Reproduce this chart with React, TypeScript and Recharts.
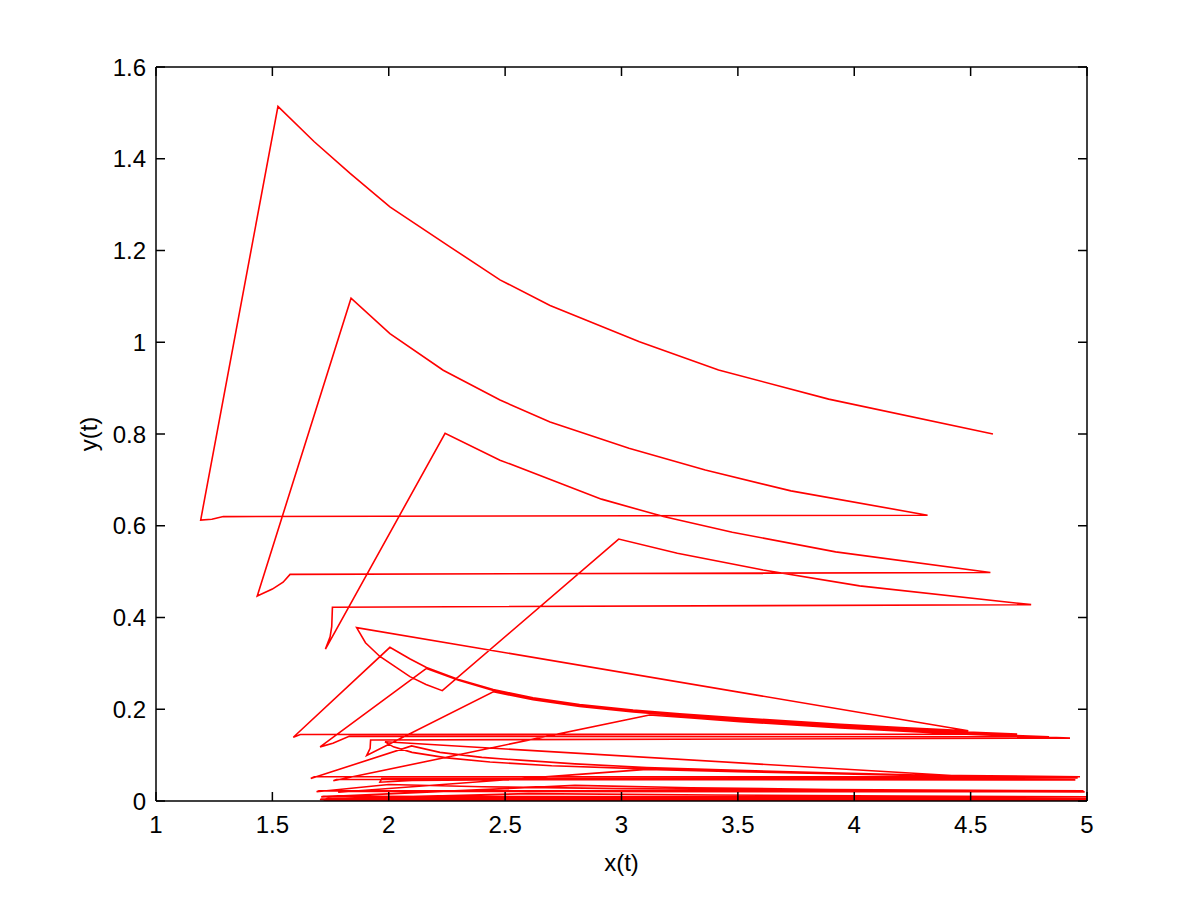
import { LineChart, Line, XAxis, YAxis } from "recharts"

// trajectory (x(t), y(t)) in time order, split by cycle
const tinyCycles: [number, number][] = [
  [1.72, 0.0005], [1.9, 0.002], [2.6, 0.0025], [3.5, 0.002], [5.0, 0.001],
  [1.73, 0.002], [1.72, 0.0015], [2.1, 0.006], [3.0, 0.005], [4.0, 0.004], [5.0, 0.003],
  [1.71, 0.004], [1.705, 0.003], [2.3, 0.01], [3.2, 0.008], [4.2, 0.006], [5.0, 0.005],
  [1.74, 0.006], [1.73, 0.005], [2.6, 0.016], [3.4, 0.013], [4.2, 0.011], [5.0, 0.009],
  [1.72, 0.01], [1.71, 0.009], [2.8, 0.034], [3.3, 0.029], [3.9, 0.025], [4.985, 0.022],
  [1.7, 0.022], [1.69, 0.02], [2.0, 0.036], [2.4, 0.031], [3.0, 0.027], [4.0, 0.023], [4.99, 0.02],
  [1.79, 0.021], [1.783, 0.019],
]

const lowCycles: [number, number][] = [
  [3.108, 0.069], [3.5, 0.064], [4.0, 0.059], [4.455, 0.0555], [4.97, 0.053],
  [1.68, 0.053], [1.665, 0.049],
  [2.098, 0.12], [2.22, 0.106], [2.4, 0.095], [2.564, 0.089], [2.8, 0.081], [3.108, 0.073],
  [3.5, 0.067], [3.85, 0.062], [4.455, 0.0545],
  [1.984, 0.129], [2.02, 0.118], [2.1, 0.106], [2.25, 0.094], [2.435, 0.085], [2.7, 0.077],
  [3.1, 0.07], [3.6, 0.063], [4.2, 0.056], [4.96, 0.05],
  [1.97, 0.049], [1.962, 0.041], [2.1, 0.045], [3.0, 0.048], [4.0, 0.047], [4.95, 0.046],
  [1.775, 0.047], [1.762, 0.044],
]

const midCycles: [number, number][] = [
  [3.12, 0.1875], [3.3, 0.181], [3.51, 0.173], [3.94, 0.159], [4.4, 0.147], [4.927, 0.137],
  [1.922, 0.133], [1.92, 0.115], [1.905, 0.099],
  [2.449, 0.238], [2.62, 0.221], [2.82, 0.206], [3.05, 0.194], [3.25, 0.186], [3.51, 0.176],
  [3.94, 0.162], [4.4, 0.149], [4.837, 0.14],
  [1.83, 0.141], [1.76, 0.126], [1.705, 0.118],
  [2.162, 0.289], [2.3, 0.263], [2.449, 0.241], [2.62, 0.223], [2.82, 0.208], [3.05, 0.196],
  [3.25, 0.188], [3.51, 0.179], [3.94, 0.164], [4.3, 0.154], [4.7, 0.146],
  [1.62, 0.145], [1.59, 0.139],
  [2.005, 0.335], [2.09, 0.31], [2.162, 0.291], [2.3, 0.265], [2.449, 0.243], [2.62, 0.225],
  [2.82, 0.21], [3.05, 0.198], [3.25, 0.19], [3.51, 0.181], [3.94, 0.167], [4.2, 0.16], [4.49, 0.153],
  [1.862, 0.378], [1.9, 0.345], [1.962, 0.315], [2.091, 0.271], [2.16, 0.254], [2.23, 0.2405],
]

const upperCycles: [number, number][] = [
  [2.988, 0.571], [3.24, 0.54], [3.609, 0.5035], [4.023, 0.469], [4.76, 0.428],
  [1.758, 0.4225], [1.755, 0.38], [1.748, 0.358], [1.728, 0.331],
  [2.242, 0.8015], [2.478, 0.743], [2.914, 0.658], [3.18, 0.62], [3.476, 0.586], [3.92, 0.543], [4.585, 0.498],
  [1.576, 0.494], [1.546, 0.477], [1.5, 0.462], [1.435, 0.447],
  [1.838, 1.096], [2.005, 1.019], [2.234, 0.939], [2.478, 0.874], [2.693, 0.826], [3.032, 0.769],
  [3.36, 0.7215], [3.728, 0.676], [4.315, 0.623],
  [1.289, 0.62], [1.24, 0.614], [1.192, 0.6125],
  [1.524, 1.514], [1.68, 1.437], [1.834, 1.368], [2.005, 1.295], [2.263, 1.208], [2.478, 1.136], [2.693, 1.08],
  [3.077, 1.001], [3.417, 0.9395], [3.89, 0.876], [4.596, 0.8],
]

const xTicks = [1, 1.5, 2, 2.5, 3, 3.5, 4, 4.5, 5]
const yTicks = [0, 0.2, 0.4, 0.6, 0.8, 1, 1.2, 1.4, 1.6]

const data = [...tinyCycles, ...lowCycles, ...midCycles, ...upperCycles].map(([x, y]) => ({ x, y }))

const FONT = "'Liberation Sans', Arial, Helvetica, sans-serif"
const tickStyle = { fill: "#000", fontSize: 24, fontFamily: FONT }
const labelStyle = { fill: "#000", fontSize: 24, fontFamily: FONT }
const noText = () => ""
const boxTick = { stroke: "#000", strokeWidth: 1.5 }

export default function App() {
  return (
    <div style={{ position: "absolute", left: 0, top: 0, width: 1200, height: 903, background: "#fff" }}>
      <LineChart
        width={1200}
        height={903}
        data={data}
        margin={{ top: 67, right: 113, left: 96, bottom: 42 }}
      >
        {/* labelled axes */}
        <XAxis
          xAxisId="main"
          dataKey="x"
          type="number"
          domain={[1, 5]}
          ticks={xTicks}
          allowDataOverflow
          height={60}
          axisLine={false}
          tickLine={false}
          tickSize={0}
          tickMargin={15}
          tick={tickStyle}
          label={{ value: "x(t)", position: "center", dy: 31, style: labelStyle }}
        />
        <YAxis
          yAxisId="main"
          dataKey="y"
          type="number"
          domain={[0, 1.6]}
          ticks={yTicks}
          allowDataOverflow
          width={60}
          axisLine={false}
          tickLine={false}
          tickSize={0}
          tickMargin={10}
          tick={tickStyle}
          label={{ value: "y(t)", angle: -90, position: "center", dx: -38, style: labelStyle }}
        />
        {/* box with inward ticks */}
        <XAxis xAxisId="b" dataKey="x" orientation="bottom" mirror type="number" domain={[1, 5]} ticks={xTicks}
          allowDataOverflow stroke="#000" strokeWidth={1.5} tickSize={9} tickFormatter={noText} tickLine={boxTick} />
        <XAxis xAxisId="t" dataKey="x" orientation="top" mirror type="number" domain={[1, 5]} ticks={xTicks}
          allowDataOverflow stroke="#000" strokeWidth={1.5} tickSize={9} tickFormatter={noText} tickLine={boxTick} />
        <YAxis yAxisId="l" dataKey="y" orientation="left" mirror type="number" domain={[0, 1.6]} ticks={yTicks}
          allowDataOverflow stroke="#000" strokeWidth={1.5} tickSize={9} tickFormatter={noText} tickLine={boxTick} />
        <YAxis yAxisId="r" dataKey="y" orientation="right" mirror type="number" domain={[0, 1.6]} ticks={yTicks}
          allowDataOverflow stroke="#000" strokeWidth={1.5} tickSize={9} tickFormatter={noText} tickLine={boxTick} />
        <Line
          xAxisId="main"
          yAxisId="main"
          dataKey="y"
          type="linear"
          stroke="#ff0000"
          strokeWidth={1.6}
          dot={false}
          activeDot={false}
          isAnimationActive={false}
        />
      </LineChart>
    </div>
  )
}
